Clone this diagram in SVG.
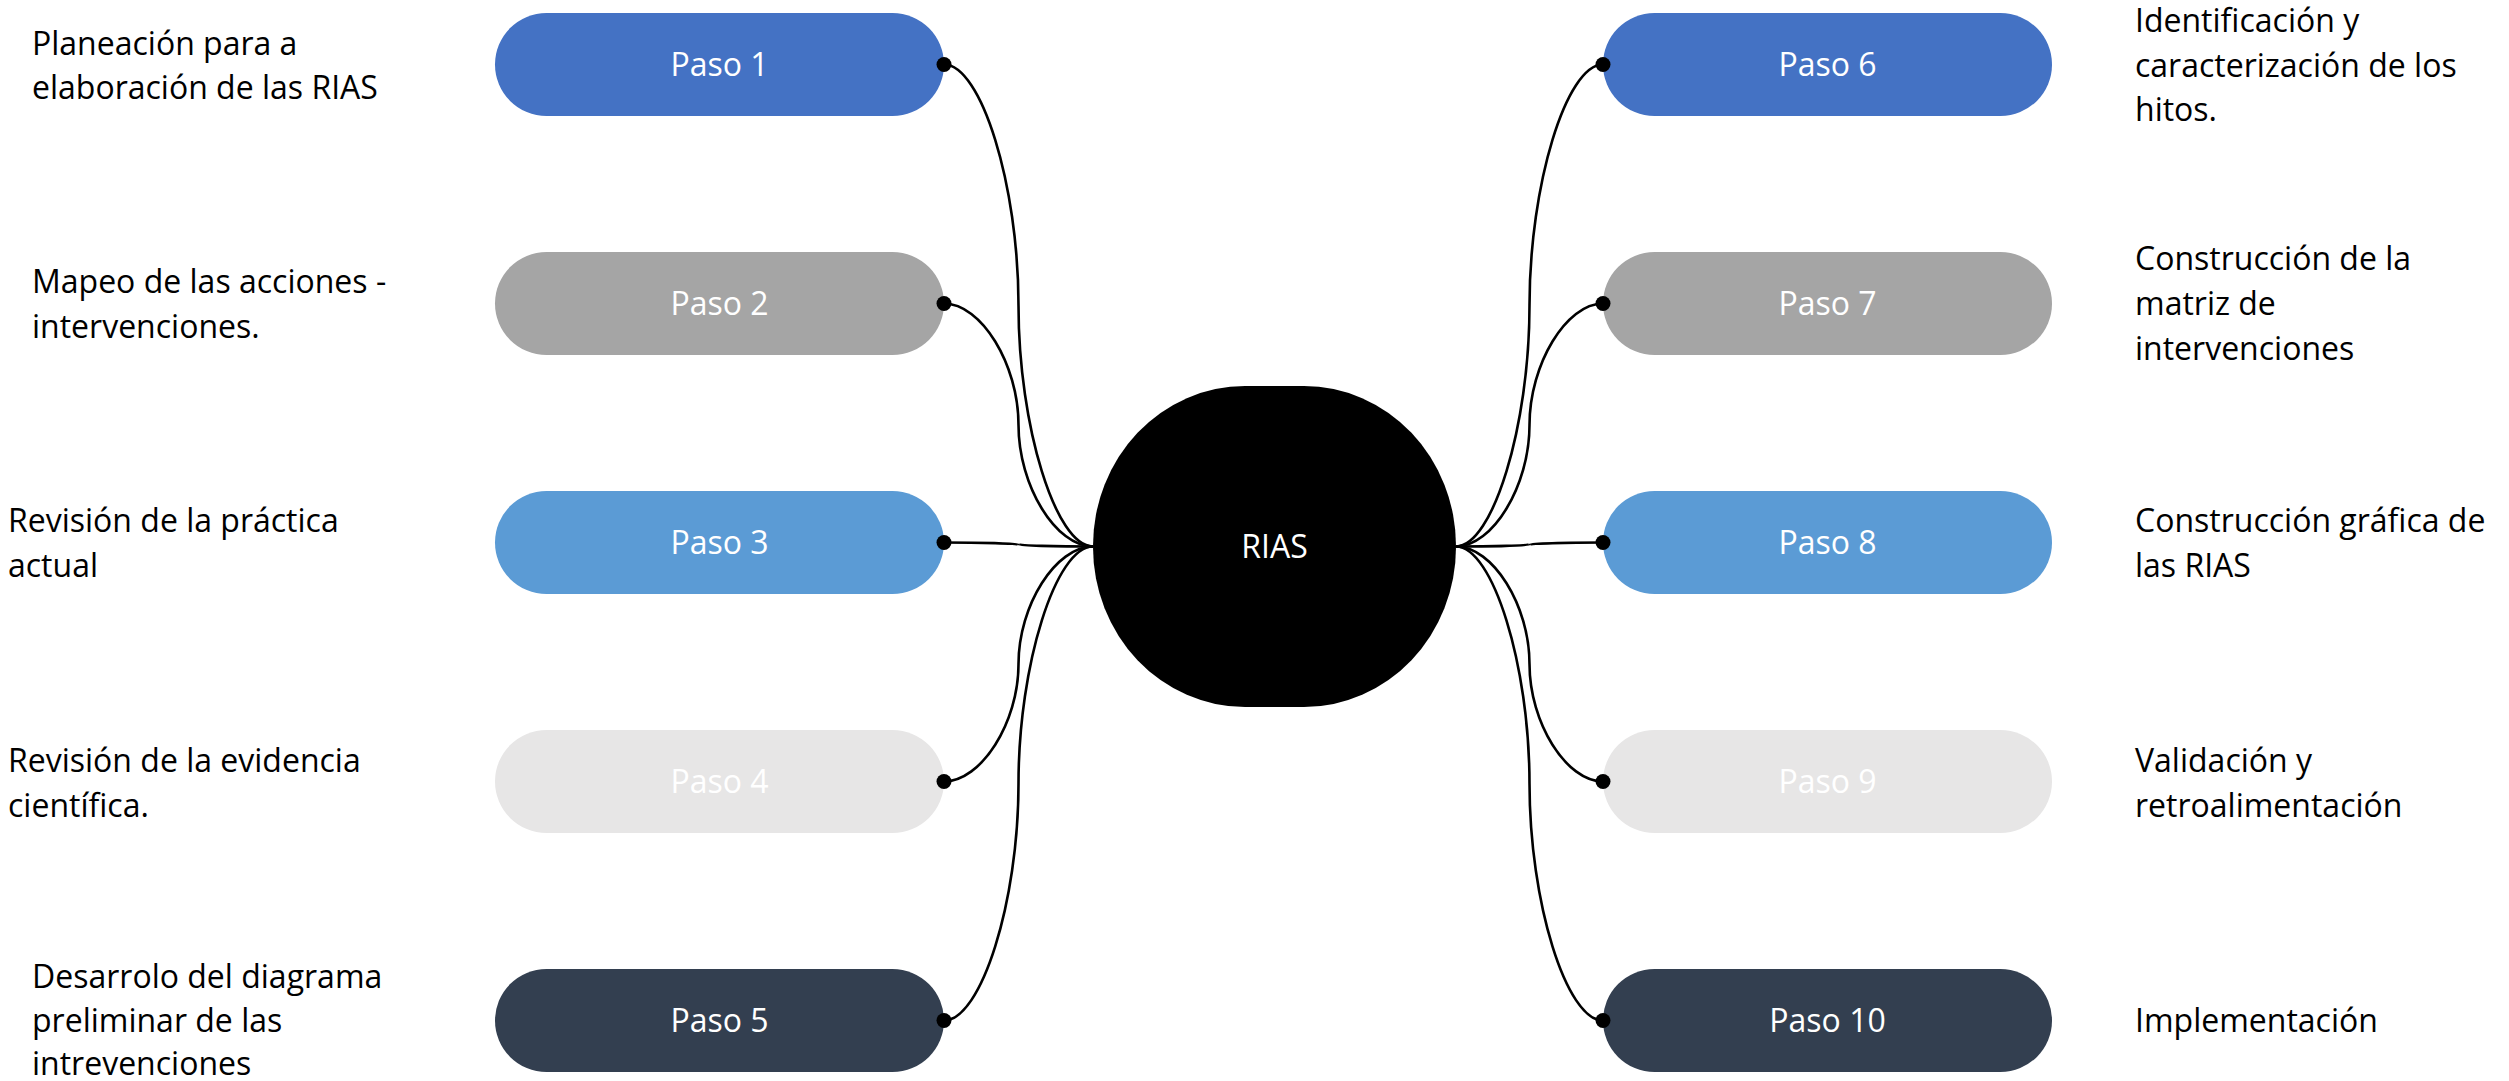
<svg xmlns="http://www.w3.org/2000/svg" width="2509" height="1081" viewBox="0 0 2509 1081">
<style>
text{font-family:"Open Sans","Liberation Sans",sans-serif;font-size:32px}
.lbl{fill:#000}
.pt{fill:#fff;text-anchor:middle}
.con{fill:none;stroke:#000;stroke-width:2.6}
.dot{fill:#000}
</style>
<rect width="2509" height="1081" fill="#fff"/>
<g id="connectors">
<path class="con" d="M944,64.5 C981.25,64.5 1018.5,185 1018.5,305.5 C1018.5,426 1055.75,546.5 1093,546.5"/>
<path class="con" d="M944,303.5 C981.25,303.5 1018.5,364.25 1018.5,425 C1018.5,485.75 1055.75,546.5 1093,546.5"/>
<path class="con" d="M944,542.5 C981.25,542.5 1018.5,543.5 1018.5,544.5 C1018.5,545.5 1055.75,546.5 1093,546.5"/>
<path class="con" d="M944,781.5 C981.25,781.5 1018.5,722.75 1018.5,664 C1018.5,605.25 1055.75,546.5 1093,546.5"/>
<path class="con" d="M944,1020.5 C981.25,1020.5 1018.5,902 1018.5,783.5 C1018.5,665 1055.75,546.5 1093,546.5"/>
<path class="con" d="M1456,546.5 C1492.75,546.5 1529.5,426 1529.5,305.5 C1529.5,185 1566.25,64.5 1603,64.5"/>
<path class="con" d="M1456,546.5 C1492.75,546.5 1529.5,485.75 1529.5,425 C1529.5,364.25 1566.25,303.5 1603,303.5"/>
<path class="con" d="M1456,546.5 C1492.75,546.5 1529.5,545.5 1529.5,544.5 C1529.5,543.5 1566.25,542.5 1603,542.5"/>
<path class="con" d="M1456,546.5 C1492.75,546.5 1529.5,605.25 1529.5,664 C1529.5,722.75 1566.25,781.5 1603,781.5"/>
<path class="con" d="M1456,546.5 C1492.75,546.5 1529.5,665 1529.5,783.5 C1529.5,902 1566.25,1020.5 1603,1020.5"/>
</g>
<g id="rias">
<rect x="1093" y="386" width="363" height="321" rx="152" ry="160" fill="#000"/>
<text class="pt" x="1274.5" y="558">RIAS</text>
</g>
<g id="paso1">
<rect x="495" y="13" width="449" height="103" rx="51.5" fill="#4472C4"/>
<text class="pt" x="719.5" y="76">Paso 1</text>
<circle class="dot" cx="944" cy="64.5" r="7.5"/>
</g>
<g id="paso2">
<rect x="495" y="252" width="449" height="103" rx="51.5" fill="#A5A5A5"/>
<text class="pt" x="719.5" y="315">Paso 2</text>
<circle class="dot" cx="944" cy="303.5" r="7.5"/>
</g>
<g id="paso3">
<rect x="495" y="491" width="449" height="103" rx="51.5" fill="#5B9BD5"/>
<text class="pt" x="719.5" y="554">Paso 3</text>
<circle class="dot" cx="944" cy="542.5" r="7.5"/>
</g>
<g id="paso4">
<rect x="495" y="730" width="449" height="103" rx="51.5" fill="#E7E6E6"/>
<text class="pt" x="719.5" y="793">Paso 4</text>
<circle class="dot" cx="944" cy="781.5" r="7.5"/>
</g>
<g id="paso5">
<rect x="495" y="969" width="449" height="103" rx="51.5" fill="#333F50"/>
<text class="pt" x="719.5" y="1032">Paso 5</text>
<circle class="dot" cx="944" cy="1020.5" r="7.5"/>
</g>
<g id="paso6">
<rect x="1603" y="13" width="449" height="103" rx="51.5" fill="#4472C4"/>
<text class="pt" x="1827.5" y="76">Paso 6</text>
<circle class="dot" cx="1603" cy="64.5" r="7.5"/>
</g>
<g id="paso7">
<rect x="1603" y="252" width="449" height="103" rx="51.5" fill="#A5A5A5"/>
<text class="pt" x="1827.5" y="315">Paso 7</text>
<circle class="dot" cx="1603" cy="303.5" r="7.5"/>
</g>
<g id="paso8">
<rect x="1603" y="491" width="449" height="103" rx="51.5" fill="#5B9BD5"/>
<text class="pt" x="1827.5" y="554">Paso 8</text>
<circle class="dot" cx="1603" cy="542.5" r="7.5"/>
</g>
<g id="paso9">
<rect x="1603" y="730" width="449" height="103" rx="51.5" fill="#E7E6E6"/>
<text class="pt" x="1827.5" y="793">Paso 9</text>
<circle class="dot" cx="1603" cy="781.5" r="7.5"/>
</g>
<g id="paso10">
<rect x="1603" y="969" width="449" height="103" rx="51.5" fill="#333F50"/>
<text class="pt" x="1827.5" y="1032">Paso 10</text>
<circle class="dot" cx="1603" cy="1020.5" r="7.5"/>
</g>
<g id="labels">
<text class="lbl" x="32" y="55">Planeación para a</text>
<text class="lbl" x="32" y="99">elaboración de las RIAS</text>
<text class="lbl" x="32" y="293">Mapeo de las acciones -</text>
<text class="lbl" x="32" y="338">intervenciones.</text>
<text class="lbl" x="8" y="532">Revisión de la práctica</text>
<text class="lbl" x="8" y="577">actual</text>
<text class="lbl" x="8" y="772">Revisión de la evidencia</text>
<text class="lbl" x="8" y="817">científica.</text>
<text class="lbl" x="32" y="988">Desarrolo del diagrama</text>
<text class="lbl" x="32" y="1032">preliminar de las</text>
<text class="lbl" x="32" y="1075">intrevenciones</text>
<text class="lbl" x="2135" y="32">Identificación y</text>
<text class="lbl" x="2135" y="77">caracterización de los</text>
<text class="lbl" x="2135" y="121">hitos.</text>
<text class="lbl" x="2135" y="270">Construcción de la</text>
<text class="lbl" x="2135" y="315">matriz de</text>
<text class="lbl" x="2135" y="360">intervenciones</text>
<text class="lbl" x="2135" y="532">Construcción gráfica de</text>
<text class="lbl" x="2135" y="577">las RIAS</text>
<text class="lbl" x="2135" y="772">Validación y</text>
<text class="lbl" x="2135" y="817">retroalimentación</text>
<text class="lbl" x="2135" y="1032">Implementación</text>
</g>
</svg>
